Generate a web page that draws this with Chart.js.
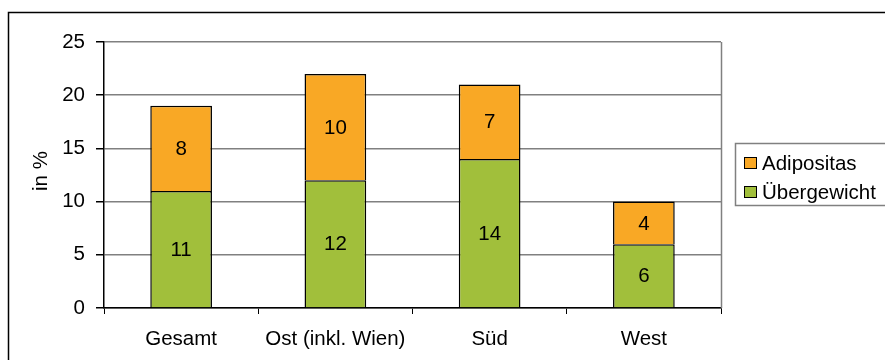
<!DOCTYPE html>
<html>
<head>
<meta charset="utf-8">
<script src="https://cdn.jsdelivr.net/npm/chart.js@4/dist/chart.umd.min.js"></script>
<style>
  html, body { margin: 0; padding: 0; background: #fff; }
  #wrap { width: 885px; height: 360px; }
</style>
</head>
<body>
<div id="wrap"><canvas id="c" width="885" height="360"></canvas></div>
<script>
// Regions and the two weight classes (values in percent)
const categories = ['Gesamt', 'Ost (inkl. Wien)', 'Süd', 'West'];
const uebergewicht = [11, 12, 14, 6];
const adipositas = [8, 10, 7, 4];
const yTickValues = [0, 5, 10, 15, 20, 25];
const yTitle = 'in %';

const FONT = '"Liberation Sans", Arial, Helvetica, sans-serif';
const FONT_SIZE = 20.5;
const ORANGE = '#F9A825';
const GREEN = '#A1BF3B';

const decorations = {
  id: 'decorations',
  afterDatasetsDraw(chart) {
    const ctx = chart.ctx;
    ctx.save();
    ctx.font = `${FONT_SIZE}px ${FONT}`;
    ctx.fillStyle = '#000';
    ctx.textAlign = 'center';
    ctx.textBaseline = 'middle';
    chart.data.datasets.forEach((ds, di) => {
      const meta = chart.getDatasetMeta(di);
      meta.data.forEach((el, i) => {
        const yc = (el.y + el.base) / 2;
        ctx.fillText(String(ds.data[i]), el.x, yc + 1);
      });
    });
    ctx.restore();
  },
  afterDraw(chart) {
    const ctx = chart.ctx;
    const a = chart.chartArea;
    ctx.save();
    // outer frame
    ctx.strokeStyle = '#000';
    ctx.lineWidth = 1.5;
    ctx.strokeRect(8.5, 12.5, 900, 400);
    // right border of the plot area
    ctx.strokeStyle = '#808080';
    ctx.lineWidth = 1.5;
    ctx.beginPath();
    ctx.moveTo(a.right + 0.5, a.top);
    ctx.lineTo(a.right + 0.5, a.bottom);
    ctx.stroke();
    // y axis title
    ctx.fillStyle = '#000';
    ctx.font = `${FONT_SIZE}px ${FONT}`;
    ctx.textAlign = 'center';
    ctx.textBaseline = 'middle';
    ctx.translate(41, 171);
    ctx.rotate(-Math.PI / 2);
    ctx.fillText(yTitle, 0, 0);
    ctx.setTransform(1, 0, 0, 1, 0, 0);
    // legend
    ctx.strokeStyle = '#808080';
    ctx.lineWidth = 1.5;
    ctx.strokeRect(735.5, 143.5, 170, 62);
    const items = [
      { label: chart.data.datasets[1].label, color: chart.data.datasets[1].backgroundColor, y: 163 },
      { label: chart.data.datasets[0].label, color: chart.data.datasets[0].backgroundColor, y: 192 }
    ];
    items.forEach(it => {
      ctx.fillStyle = it.color;
      ctx.fillRect(744, it.y - 6, 12, 11);
      ctx.strokeStyle = '#000';
      ctx.lineWidth = 1;
      ctx.strokeRect(744.5, it.y - 5.5, 12, 11);
      ctx.fillStyle = '#000';
      ctx.textAlign = 'left';
      ctx.textBaseline = 'middle';
      ctx.fillText(it.label, 762, it.y + 1);
    });
    ctx.restore();
  }
};

new Chart(document.getElementById('c'), {
  type: 'bar',
  data: {
    labels: categories,
    datasets: [
      { label: 'Übergewicht', data: uebergewicht, backgroundColor: GREEN, borderColor: '#000', borderWidth: 1.5 },
      { label: 'Adipositas', data: adipositas, backgroundColor: ORANGE, borderColor: '#000', borderWidth: 1.5 }
    ]
  },
  options: {
    responsive: false,
    animation: false,
    devicePixelRatio: 1,
    layout: { padding: { top: 42, right: 164, left: 0, bottom: 0 } },
    datasets: { bar: { barPercentage: 0.4, categoryPercentage: 1.0 } },
    plugins: { legend: { display: false }, tooltip: { enabled: false } },
    scales: {
      x: {
        stacked: true,
        offset: true,
        grid: { display: true, drawOnChartArea: false, offset: true, tickLength: 6, color: '#000' },
        border: { color: '#000', width: 1.5 },
        ticks: { color: '#000', font: { family: FONT, size: FONT_SIZE }, padding: 13, maxRotation: 0 },
        afterFit(s) { s.height = 52; }
      },
      y: {
        stacked: true,
        min: 0,
        max: 25,
        afterBuildTicks(s) { s.ticks = yTickValues.map(v => ({ value: v })); },
        grid: { color: '#808080', lineWidth: 1.5, tickLength: 8, tickColor: '#000' },
        border: { color: '#000', width: 1.5 },
        ticks: { color: '#000', font: { family: FONT, size: FONT_SIZE }, padding: 11 },
        afterFit(s) { s.width = 104; }
      }
    }
  },
  plugins: [decorations]
});
</script>
</body>
</html>
